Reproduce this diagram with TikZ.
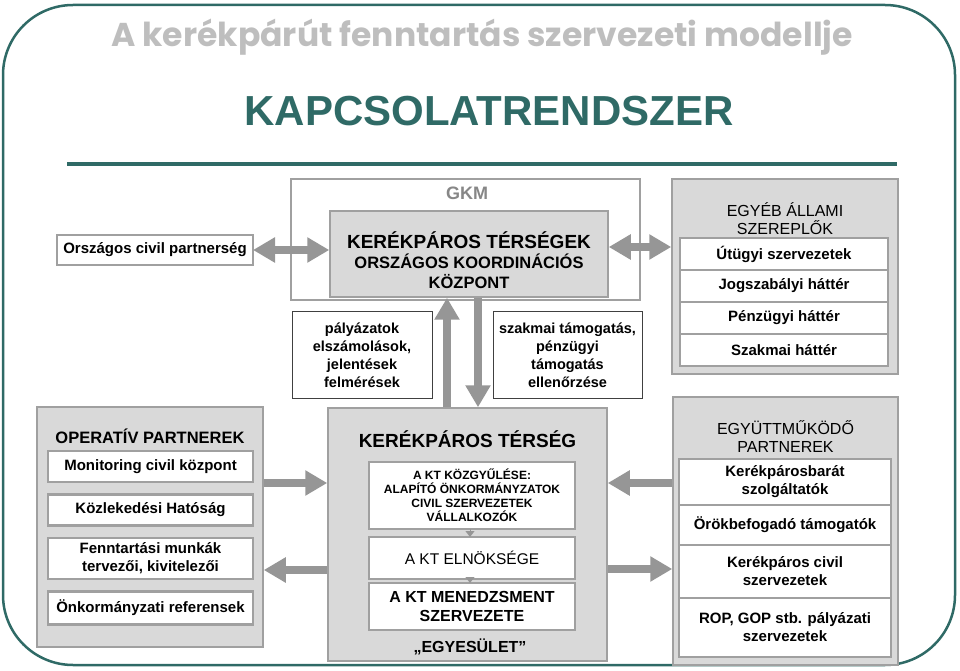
\documentclass[tikz,border=0pt]{standalone}
\usepackage{fontspec}
\setmainfont{Liberation Sans}
\newfontfamily\cimfont{Poppins}
\usepackage{tikz}
\usetikzlibrary{positioning,arrows.meta}
\tikzset{>=Stealth}
\definecolor{cTeal}{RGB}{47,106,102}
\definecolor{cCim}{RGB}{190,190,190}
\definecolor{cFill}{RGB}{217,217,217}
\definecolor{cLine}{RGB}{160,160,160}
\definecolor{cArrow}{RGB}{150,150,150}
\definecolor{cGkm}{RGB}{135,135,135}

\begin{document}
\begin{tikzpicture}[x=1pt, y=1pt, node distance=0pt]

% Stílusok.
\tikzset{
  panel/.style={rectangle, fill=cFill, draw=cLine, line width=1.5pt, inner sep=0pt},
  rowbox/.style={rectangle, fill=white, draw=cLine, line width=2.5pt, inner sep=0pt, outer sep=0pt, align=center, font=\fontsize{15}{18}\selectfont\bfseries},
  notebox/.style={rectangle, fill=white, draw=black!75, line width=1pt, inner sep=0pt, align=center, font=\fontsize{14.5}{18}\selectfont\bfseries},
  headtxt/.style={align=center, font=\fontsize{16}{18}\selectfont},
  fatarrow/.style={draw=cArrow, line width=8pt, -{Triangle[length=22pt,width=24pt]}},
  fatboth/.style={draw=cArrow, line width=8pt, {Triangle[length=22pt,width=24pt]}-{Triangle[length=22pt,width=24pt]}},
  tinyarrow/.style={draw=cArrow, line width=1pt, -{Triangle[length=6pt,width=9pt]}}
}

\useasboundingbox (0,0) rectangle (960,670);

% Keret és címek.
\draw[cTeal, line width=2.5pt, rounded corners=70pt] (3,5) rectangle (955,665);
\node (cim) [text=cCim, font=\cimfont\bfseries\fontsize{33}{36}\selectfont] at (482,633) {A kerékpárút fenntartás szervezeti modellje};
\node (alcim) [text=cTeal, font=\fontsize{42}{44}\selectfont\bfseries] at (489,559) {KAPCSOLATRENDSZER};
\draw[cTeal, line width=4pt] (67,506) -- (897,506);

% Felső sor.
\node (gkm) [panel, fill=white, minimum width=349pt, minimum height=121pt] at (465.5,430.5) {};
\node (gkmtxt) [text=cGkm, font=\fontsize{18}{20}\selectfont\bfseries] at (467,477) {GKM};
\node (kozpont) [panel, minimum width=278pt, minimum height=86pt] at (469,416) {};
\node (kozponttxt) [align=center, font=\fontsize{16.5}{20}\selectfont\bfseries] at (469,410) {{\fontsize{19}{20}\selectfont KERÉKPÁROS TÉRSÉGEK}\\ORSZÁGOS KOORDINÁCIÓS\\KÖZPONT};
\node (civil) [rowbox, minimum width=196pt, minimum height=30pt] at (155,420) {Országos civil partnerség};
\node (palyazat) [notebox, minimum width=140pt, minimum height=86pt] at (362,315) {pályázatok\\elszámolások,\\jelentések\\felmérések};
\node (szakmai) [notebox, minimum width=149pt, minimum height=86pt] at (567.5,315) {szakmai támogatás,\\pénzügyi\\támogatás\\ellenőrzése};

% Egyéb állami szereplők.
\node (egyeb) [panel, minimum width=226pt, minimum height=195pt] at (785,393.5) {};
\node (egyebcim) [headtxt] at (785,451) {EGYÉB ÁLLAMI\\SZEREPLŐK};
\node (ut) [rowbox, minimum width=208pt, minimum height=32pt] at (784,416) {Útügyi szervezetek};
\node (jog) [rowbox, minimum width=208pt, minimum height=32pt, below=of ut] {Jogszabályi háttér};
\node (penz) [rowbox, minimum width=208pt, minimum height=32pt, below=of jog] {Pénzügyi háttér};
\node (szakh) [rowbox, minimum width=208pt, minimum height=32pt, below=of penz] {Szakmai háttér};

% Operatív partnerek.
\node (operativ) [panel, minimum width=226pt, minimum height=240pt] at (150,143) {};
\node (opcim) [font=\fontsize{16.5}{18}\selectfont\bfseries] at (150,234) {OPERATÍV PARTNEREK};
\node (mon) [rowbox, minimum width=205pt, minimum height=31pt] at (150.5,203.5) {Monitoring civil központ};
\node (kozl) [rowbox, minimum width=205pt, minimum height=31pt, below=12.5pt of mon] {Közlekedési Hatóság};
\node (fennt) [rowbox, minimum width=205pt, minimum height=41pt, below=12.5pt of kozl] {Fenntartási munkák\\tervezői, kivitelezői};
\node (onk) [rowbox, minimum width=205pt, minimum height=33pt, below=12.5pt of fennt] {Önkormányzati referensek};

% Kerékpáros térség.
\node (kt) [panel, minimum width=279pt, minimum height=253pt] at (467.5,135.5) {};
\node (ktcim) [font=\fontsize{19}{20}\selectfont\bfseries] at (467.5,231) {KERÉKPÁROS TÉRSÉG};
\node (kgy) [rowbox, line width=1.5pt, minimum width=206pt, minimum height=67pt, font=\fontsize{12}{14}\selectfont\bfseries] at (472,174.5) {A KT KÖZGYŰLÉSE:\\ALAPÍTÓ ÖNKORMÁNYZATOK\\CIVIL SZERVEZETEK\\VÁLLALKOZÓK};
\node (eln) [rowbox, line width=1.5pt, minimum width=206pt, minimum height=42pt, font=\fontsize{15.5}{18}\selectfont, below=8pt of kgy] {A KT ELNÖKSÉGE};
\node (mgmt) [rowbox, line width=1.5pt, minimum width=206pt, minimum height=47pt, font=\fontsize{16}{19}\selectfont\bfseries, below=4pt of eln] {A KT MENEDZSMENT\\SZERVEZETE};
\node (egyes) [font=\fontsize{16}{19}\selectfont\bfseries] at (470,23) {„EGYESÜLET”};

% Együttműködő partnerek.
\node (egyutt) [panel, minimum width=225pt, minimum height=268pt] at (785.5,139) {};
\node (egyuttcim) [headtxt] at (785.5,233) {EGYÜTTMŰKÖDŐ\\PARTNEREK};
\node (kbarat) [rowbox, minimum width=212pt, minimum height=46pt] at (785,188) {Kerékpárosbarát\\szolgáltatók};
\node (orok) [rowbox, minimum width=212pt, minimum height=40pt, below=of kbarat] {Örökbefogadó támogatók};
\node (civszerv) [rowbox, minimum width=212pt, minimum height=53pt, below=of orok] {Kerékpáros civil\\szervezetek};
\node (rop) [rowbox, minimum width=212pt, minimum height=59pt, below=of civszerv] {ROP, GOP stb. pályázati\\szervezetek};

% Nyilak.
\draw[fatboth] (civil.east) -- (civil.east -| kozpont.west);
\draw[fatboth] ([yshift=7pt]kozpont.east) -- ([yshift=7pt]kozpont.east -| egyeb.west);
\draw[fatarrow] ([xshift=-20.5pt]kt.north) -- ([xshift=-20.5pt]kt.north |- kozpont.south);
\draw[fatarrow] ([xshift=10.5pt]kt.north |- kozpont.south) -- ([xshift=10.5pt]kt.north);
\draw[fatarrow] ([yshift=44pt]operativ.east) -- ([yshift=44pt]operativ.east -| kt.west);
\draw[fatarrow] ([yshift=-43pt]operativ.east -| kt.west) -- ([yshift=-43pt]operativ.east);
\draw[fatarrow] ([yshift=48pt]egyutt.west) -- ([yshift=48pt]egyutt.west -| kt.east);
\draw[fatarrow] ([yshift=-38pt]egyutt.west -| kt.east) -- ([yshift=-38pt]egyutt.west);
\draw[tinyarrow] ([xshift=-2pt]kgy.south) -- ([xshift=-2pt]eln.north);
\draw[tinyarrow] ([xshift=-2pt]eln.south) -- ([xshift=-2pt]mgmt.north);
\end{tikzpicture}
\end{document}
